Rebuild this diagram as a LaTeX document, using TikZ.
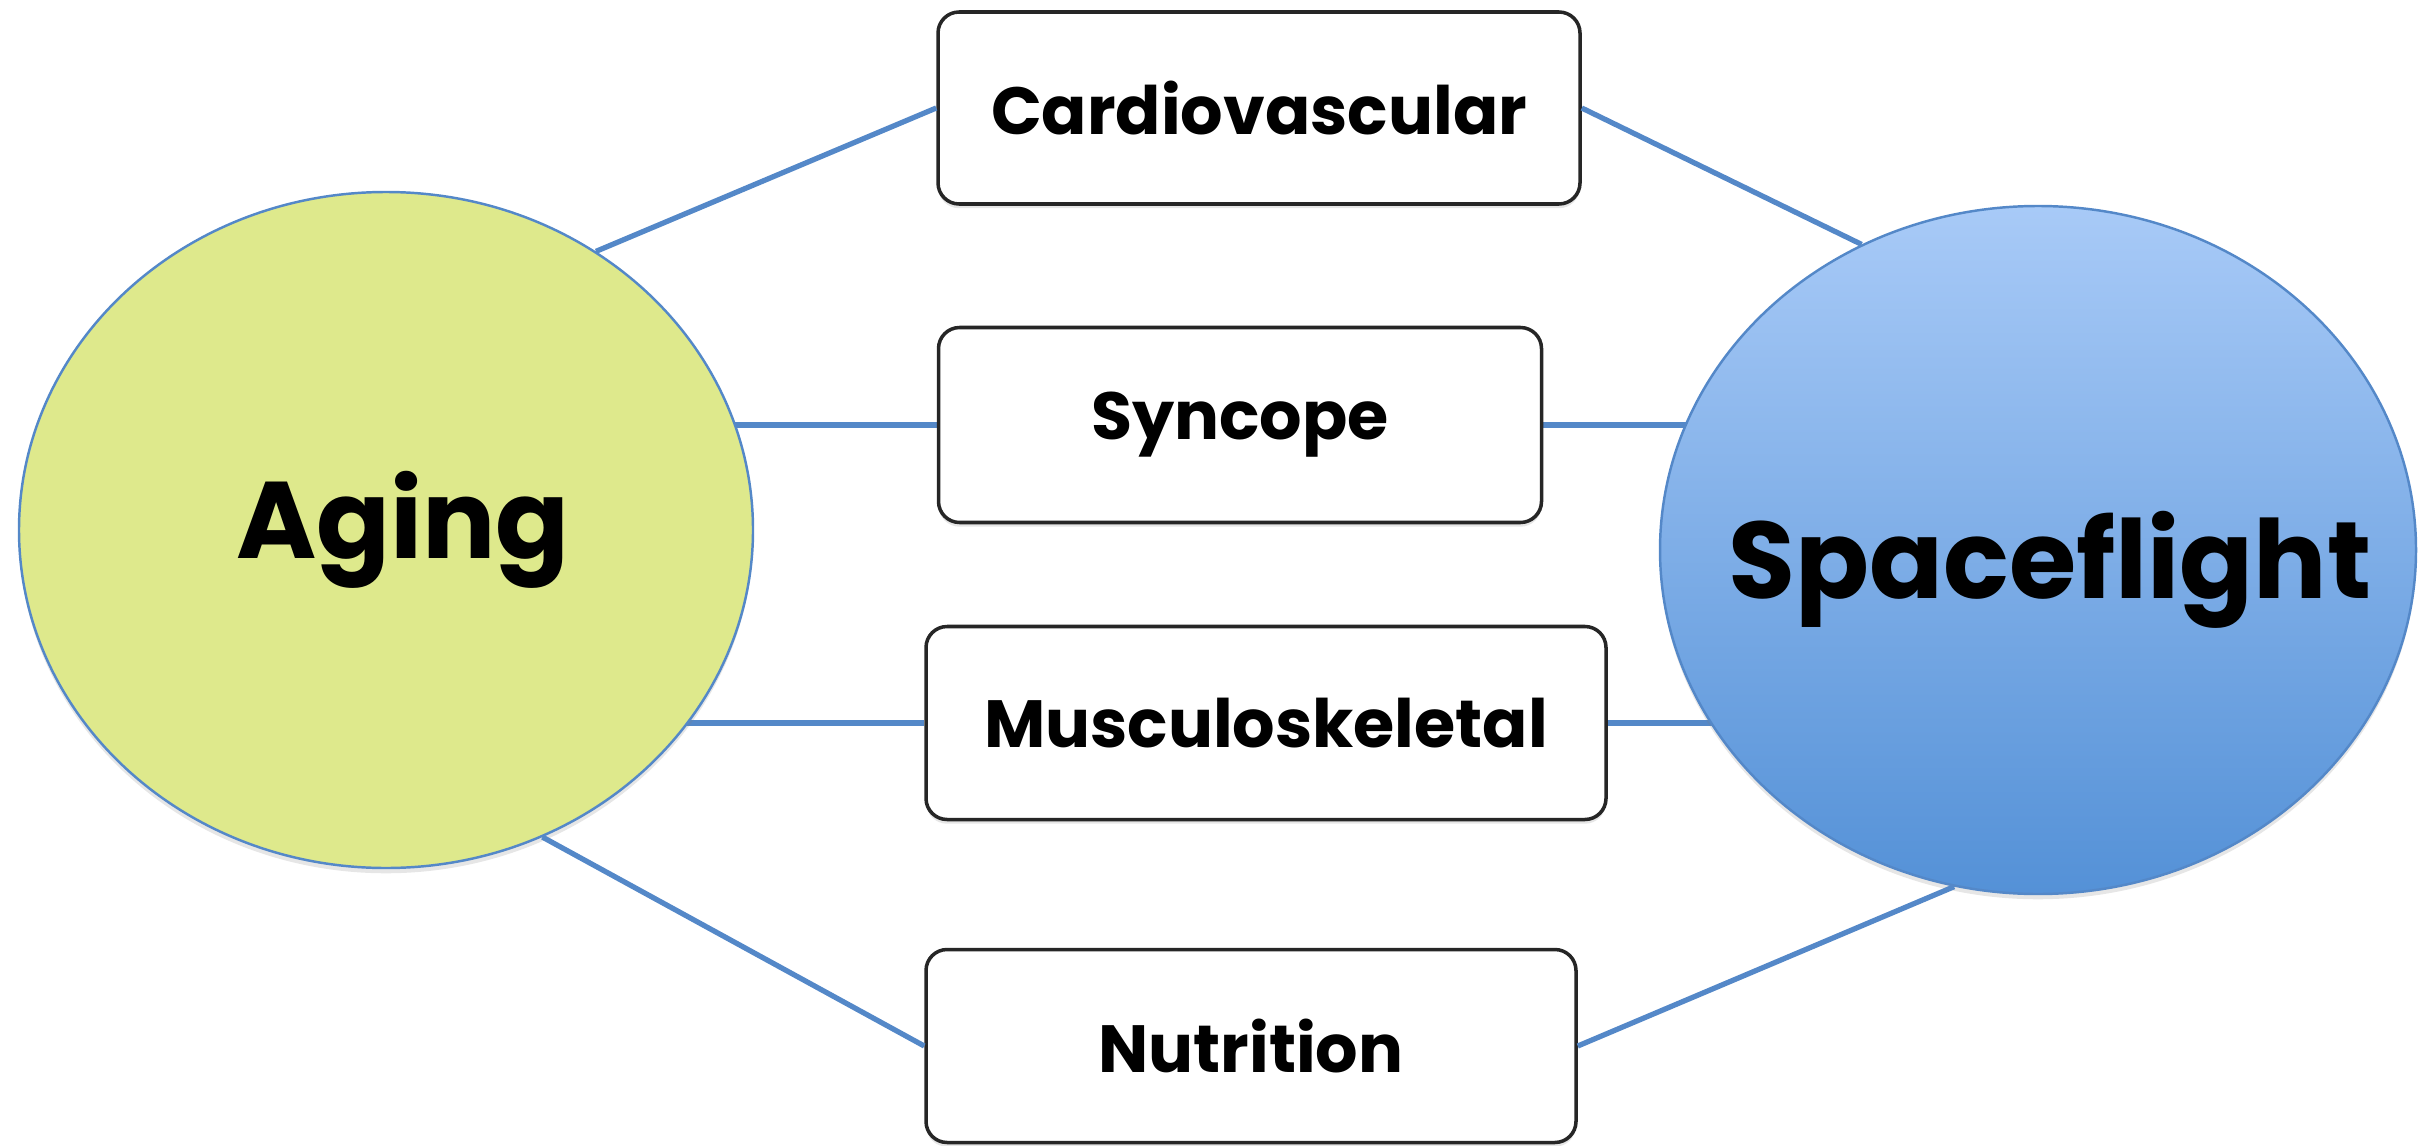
\documentclass[tikz,border=0pt]{standalone}
\usepackage{fontspec}
\setmainfont{Poppins}
\usepackage{tikz}
\usetikzlibrary{shapes.geometric,shadows,backgrounds}

\definecolor{linkblue}{RGB}{84,136,200}
\definecolor{agegreen}{RGB}{222,233,140}
\definecolor{spacetop}{RGB}{168,202,247}
\definecolor{spacebot}{RGB}{84,145,215}

\tikzset{
  topic/.style={draw=black!85, line width=1pt, rounded corners=6pt, fill=white,
    font=\bfseries\fontsize{19}{22}\selectfont,
    drop shadow={opacity=0.2, shadow xshift=0pt, shadow yshift=-1.2pt}},
  bigone/.style={ellipse, draw=linkblue, line width=0.7pt, inner sep=0pt,
    drop shadow={opacity=0.2, shadow xshift=0pt, shadow yshift=-1.5pt}},
  bigtext/.style={font=\bfseries\fontsize{31}{36}\selectfont},
  link/.style={draw=linkblue, line width=1.5pt}
}

\begin{document}
\begin{tikzpicture}

	\useasboundingbox (0,0) rectangle (24.28,11.45);

	% the two sides
	\node [bigone, fill=agegreen, minimum width=7.34cm, minimum height=6.76cm,
		label={[bigtext, xshift=0.17cm]center:Aging}] (aging) at (3.86,6.15) {};
	\node [bigone, top color=spacetop, bottom color=spacebot, minimum width=7.56cm, minimum height=6.88cm,
		label={[bigtext, xshift=0.12cm, yshift=-0.2cm]center:Spaceflight}] (space) at (20.38,5.95) {};

	% what they share
	\node [topic, minimum width=6.42cm, minimum height=1.92cm] (cardio) at (12.59,10.37) {Cardiovascular};
	\node [topic, minimum width=6.03cm, minimum height=1.95cm] (syncope) at (12.40,7.20) {Syncope};
	\node [topic, minimum width=6.80cm, minimum height=1.93cm] (musculo) at (12.66,4.22) {Musculoskeletal};
	\node [topic, minimum width=6.50cm, minimum height=1.93cm] (nutrition) at (12.51,0.99) {Nutrition};

	\begin{scope}[on background layer]
		\draw [link] (syncope.west) -- (syncope.west -| aging.center);
		\draw [link] (syncope.east) -- (syncope.east -| space.center);
		\draw [link] (musculo.west) -- (musculo.west -| aging.center);
		\draw [link] (musculo.east) -- (musculo.east -| space.center);
	\end{scope}

	\draw [link] (aging.53) -- (cardio.west);
	\draw [link] (cardio.east) -- (space.120);
	\draw [link] (aging.-63) -- (nutrition.west);
	\draw [link] (nutrition.east) -- (space.-104);

\end{tikzpicture}
\end{document}
